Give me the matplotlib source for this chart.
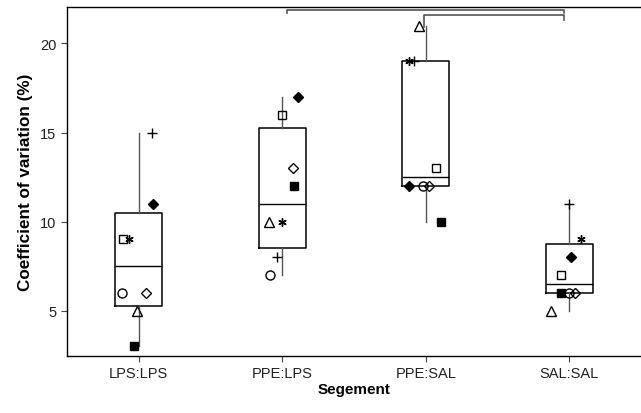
import numpy as np
import matplotlib
matplotlib.use("Agg")
import matplotlib.pyplot as plt

plt.rcParams['font.family'] = ['Liberation Sans', 'DejaVu Sans']

categories = ["LPS:LPS", "PPE:LPS", "PPE:SAL", "SAL:SAL"]
# per-subject values, order: open square, asterisk, filled diamond, open circle,
# open diamond, open triangle, filled square, plus
sq_open   = [9, 16, 13, 7]
asterisk  = [9, 10, 19, 9]
dia_fill  = [11, 17, 12, 8]
circ_open = [6, 7, 12, 6]
dia_open  = [6, 13, 12, 6]
tri_open  = [5, 10, 21, 5]
sq_fill   = [3, 12, 10, 6]
plus      = [15, 8, 19, 11]

series = [sq_open, asterisk, dia_fill, circ_open, dia_open, tri_open, sq_fill, plus]
# horizontal jitter of each series within each group
jitter = [
    [-0.11, 0.00, 0.07, -0.055],
    [-0.07, 0.00, -0.12, 0.08],
    [0.10, 0.11, -0.12, 0.01],
    [-0.115, -0.085, -0.02, 0.00],
    [0.05, 0.075, 0.02, 0.04],
    [-0.01, -0.09, -0.05, -0.125],
    [-0.035, 0.085, 0.105, -0.06],
    [0.09, -0.04, -0.08, 0.00],
]
styles = [
    dict(marker='s', mfc='none', ms=6),
    dict(marker=(6, 2, 0), mfc='black', ms=6),
    dict(marker='D', mfc='black', ms=5),
    dict(marker='o', mfc='none', ms=6.5),
    dict(marker='D', mfc='none', ms=5.5),
    dict(marker='^', mfc='none', ms=6.5),
    dict(marker='s', mfc='black', ms=6),
    dict(marker='+', mfc='black', ms=7),
]

fig = plt.figure(figsize=(6.41, 4.14), dpi=100)
ax = fig.add_axes([0.1045, 0.1377, 0.8955, 0.843])

pos = np.arange(len(categories))
data = np.array(series).T  # groups x subjects
stats = []
for g, vals in enumerate(data):
    q1, med, q3 = np.percentile(vals, [25, 50, 75], method='weibull')
    stats.append(dict(med=med, q1=q1, q3=q3, whislo=vals.min(), whishi=vals.max(),
                      fliers=[], label=categories[g]))
ax.bxp(stats, positions=pos, widths=0.33, showfliers=False, showcaps=False,
       boxprops=dict(color='black', lw=1.1),
       medianprops=dict(color='black', lw=1.0),
       whiskerprops=dict(color='#555555', lw=1.0),
       manage_ticks=False, zorder=2)

for s, (vals, jit, st) in enumerate(zip(series, jitter, styles)):
    ax.plot(pos + np.array(jit), vals, ls='none', mec='black', mew=1.0,
            zorder=3, **st)

# significance brackets
br = dict(color='#555555', lw=1.2, clip_on=False, zorder=1)
ax.plot([1.03, 1.03, 2.96, 2.96], [21.74, 21.89, 21.89, 21.74], **br)
ax.plot([1.99, 1.99, 2.96, 2.96], [20.9, 21.59, 21.59, 21.31], **br)

ax.set_xlim(-0.5, 3.5)
ax.set_ylim(2.45, 22.05)
ax.set_xticks(pos)
ax.set_xticklabels(categories)
ax.set_yticks([5, 10, 15, 20])
ax.tick_params(labelsize=10.5, length=4, color='#444444', labelcolor='#222222')
ax.spines['right'].set_visible(False)
for sp in ['left', 'bottom', 'top']:
    ax.spines[sp].set_linewidth(1.0)
ax.set_ylabel("Coefficient of variation (%)", fontsize=12.3, fontweight='bold', labelpad=5)
ax.set_xlabel("Segement", fontsize=11, fontweight='bold', labelpad=1)

fig.savefig("out.png", dpi=100)
